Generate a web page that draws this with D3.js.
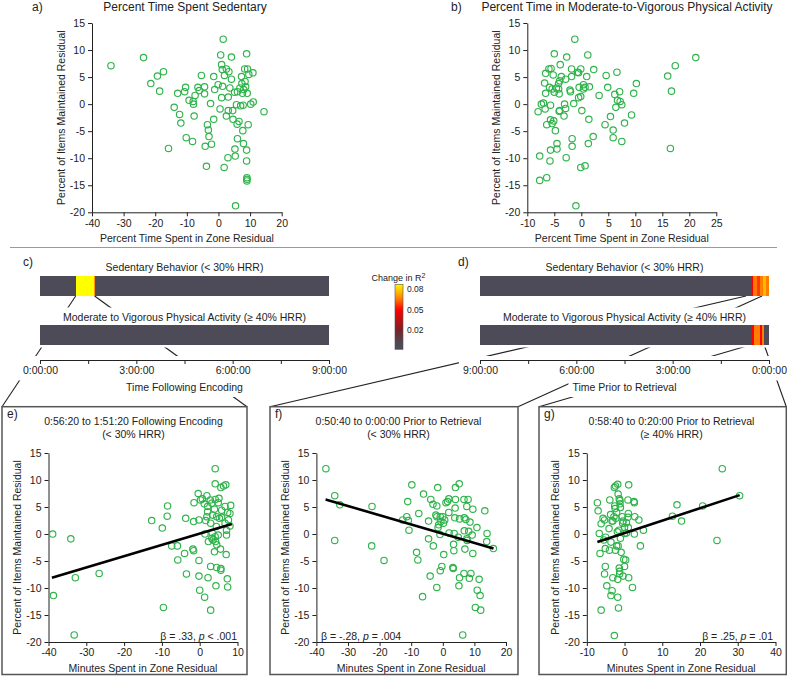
<!DOCTYPE html>
<html><head><meta charset="utf-8">
<script src="https://cdn.jsdelivr.net/npm/d3@7"></script>
<style>
body{margin:0;background:#fff}
svg text{font-family:"Liberation Sans",Arial,sans-serif;fill:#222}
</style></head>
<body><svg id="c" width="787" height="676"></svg>
<script>
// ---------------- DATA ----------------
const yTicks = [15,10,5,0,-5,-10,-15,-20];
const aXTicks = [-40,-30,-20,-10,0,10,20];
const bXTicks = [-10,-5,0,5,10,15,20,25];
const eXTicks = [-40,-30,-20,-10,0,10];
const fXTicks = [-40,-30,-20,-10,0,10,20];
const gXTicks = [-10,0,10,20,30,40];

// a) Percent time sedentary residual vs items maintained residual
const sedX = [1.5,-34.0,-23.7,0.7,4.1,8.9,1.0,-17.4,-19.3,-21.4,-18.6,-5.4,-1.5,1.2,2.5,3.3,1.9,4.1,8.3,9.2,10.9,9.6,7.3,8.4,7.4,-0.1,1.3,3.6,6.8,8.6,8.0,-1.2,-10.4,-10.7,-12.9,-6.5,-6.1,-4.4,-4.4,-7.4,-9.3,-8.0,-7.9,-2.5,-14.0,-12.3,-11.9,-7.7,1.0,3.1,5.1,6.0,7.6,9.1,5.7,7.0,7.8,10.2,11.0,14.4,0.5,3.1,4.5,2.5,-1.5,4.6,6.5,5.9,9.4,-3.5,-3.2,7.7,-3.0,-10.2,-8.2,-4.2,-2.2,6.0,7.9,8.9,5.2,-15.8,3.0,5.3,8.9,-3.8,1.8,9.0,9.0,9.0,5.4];
const sedY = [12.0,7.1,8.6,9.1,8.7,9.3,7.3,6.0,5.2,3.8,2.4,5.3,5.1,6.4,6.5,6.0,5.3,4.6,6.5,6.5,5.8,5.5,5.1,4.2,3.8,3.6,3.3,3.0,3.0,3.2,2.7,2.7,3.1,2.3,2.0,3.1,2.5,3.2,1.9,1.6,0.7,0.5,0.0,0.1,-0.6,-1.9,-3.5,-2.2,1.2,1.3,2.2,2.3,2.0,2.0,-0.1,-0.3,-0.2,0.0,0.4,-1.4,-0.9,-1.2,-1.2,-2.2,-2.8,-2.8,-3.2,-3.7,-3.8,-3.8,-4.8,-4.9,-6.0,-6.2,-6.9,-7.8,-7.4,-6.4,-7.3,-8.5,-8.3,-8.2,-9.9,-9.6,-10.5,-11.5,-11.7,-13.6,-13.9,-14.2,-18.8];

// b) Percent time in MVPA residual
const mvpaX = [-1.2,-5.0,-2.7,1.2,21.2,17.4,16.0,16.7,16.5,-6.6,-6.0,-5.6,-5.2,-3.9,-1.8,-0.7,-0.5,-0.1,2.3,1.0,4.6,6.6,10.2,4.9,9.7,7.1,6.2,6.7,7.2,7.5,6.4,3.3,5.4,9.3,8.0,4.4,5.9,5.9,7.5,2.2,1.4,1.3,-6.8,-6.6,-7.0,-7.4,-8.0,-6.7,-5.7,-6.4,-5.7,-5.1,-5.4,-4.8,-5.9,-5.4,-5.0,-4.6,-4.2,-4.1,-4.2,-4.0,-3.7,-2.9,-2.1,-2.0,-1.8,-0.4,0.4,0.4,0.7,1.5,-0.5,-0.1,-1.4,-4.0,-3.1,-2.9,-4.1,-3.2,0.1,-5.7,-4.5,-4.5,-5.8,-7.7,-2.8,-1.7,-1.7,-0.1,0.7,-7.7,-6.4,-1.0];
const mvpaY = [12.0,9.3,8.7,9.1,8.6,7.1,5.2,2.4,-8.2,5.7,6.5,6.6,5.4,7.3,6.5,5.9,5.8,6.5,6.4,5.1,5.3,5.9,3.8,3.1,2.0,2.3,1.8,0.7,0.5,-0.1,-0.6,1.6,-2.3,-2.0,-3.5,-3.8,-4.8,-6.2,-6.9,-6.0,-2.8,-7.3,3.9,2.0,0.2,0.0,-1.4,-0.9,-0.2,-3.8,-2.9,-3.1,-3.6,-4.9,3.1,2.8,2.2,3.0,2.8,1.9,3.8,4.3,5.1,4.6,2.6,2.3,5.1,3.1,2.8,3.6,3.1,3.2,1.2,1.4,0.1,-1.2,0.0,-0.8,-1.3,-2.2,-1.2,-8.5,-8.3,-7.3,-10.5,-9.6,-9.9,-6.4,-7.8,-11.7,-11.4,-14.1,-13.6,-18.8];

// c) change in R^2, time following encoding (minutes)
const cSedEdges = [0,66.7,101.0,102.2,540];
const cSedR2 = [0,0.088,0.07,0];
const cMvpaEdges = [0,540];
const cMvpaR2 = [0];
// d) change in R^2, time prior to retrieval (minutes before retrieval)
const dSedEdges = [540,33.6,30.5,23.0,16.8,10.6,5.6,0];
const dSedR2 = [0,0.05,0.065,0.057,0.066,0.076,0.066];
const dMvpaEdges = [540,31.2,28.5,17.0,13.0,9.3,0];
const dMvpaR2 = [0,0.05,0.066,0.05,0.066,0];
const timeTicks = [0,90,180,270,360,450,540];
const r2Ticks = [0.02,0.05,0.08];
// zoom windows (minutes) that connect to panels e, f, g
const cZoom = [66.7,102.0];
const dSedZoom = [43,13];
const dMvpaZoom = [31.8,9.3];

// e) 0:56:20-1:51:20 following encoding, sedentary
const eX = [4.1,4.1,5.6,6.3,6.9,-0.4,1.9,-1.5,0.2,0.7,2.8,4.1,5.1,4.9,-8.5,6.7,8.2,2.1,3.2,1.2,5.8,7.4,8.0,2.1,3.9,3.4,5.2,4.5,7.6,-8.6,-3.7,-12.7,-1.6,-0.2,1.6,2.9,6.7,-9.9,1.4,3.3,4.1,4.9,7.1,3.5,4.2,2.3,4.5,5.5,-7.4,-5.9,-1.8,-1.6,-4.0,-5.8,-0.2,3.9,7.0,2.9,4.5,5.6,5.6,-3.5,-0.2,2.2,7.3,4.3,7.4,0.0,1.3,2.9,-9.6,-38.9,-34.1,-32.9,-26.6,-38.7,-33.2,8.0,7.1,3.2,4.4,1.9,5.8];
const eY = [12.1,9.3,8.6,8.9,9.1,7.5,7.1,5.8,6.3,6.5,6.3,6.4,6.6,5.8,5.2,5.1,5.3,5.1,5.7,5.6,4.4,4.0,3.8,4.1,4.6,3.5,2.9,3.2,2.6,3.3,2.9,2.5,2.3,2.6,2.5,2.0,2.0,1.1,0.0,0.2,-0.5,-0.2,-0.2,-1.1,-1.4,-1.4,-2.0,-2.8,-2.2,-2.2,-2.8,-3.1,-3.6,-4.8,-4.9,-3.3,-3.8,-6.0,-6.2,-6.4,-6.7,-7.4,-7.8,-8.1,-8.3,-9.6,-9.8,-10.4,-11.7,-14.1,-13.6,0.0,-0.9,-8.1,-7.3,-11.4,-18.7,1.5,0.7,-0.8,1.4,3.2,3.1];
const eFitX = [-39.1,8.5], eFitY = [-8.1,1.85];

// f) 0:50:40-0:00:00 prior to retrieval, sedentary
const fX = [-37.0,-34.2,-32.6,-34.2,-22.4,-22.5,-18.6,-9.8,-11.1,-12.7,-11.4,-10.9,-10.7,-6.1,-7.6,-4.5,-4.5,-3.0,-8.3,-7.9,-3.8,-3.1,-1.6,-1.9,-2.2,-1.9,-0.8,0.0,0.6,-0.6,-1.3,-1.5,0.2,1.0,1.5,1.9,1.9,-0.9,2.0,4.0,4.0,5.2,6.7,8.0,3.8,5.3,6.8,7.3,7.6,9.5,13.3,8.6,10.8,6.8,8.2,9.3,7.6,7.7,4.9,3.6,14.0,13.9,16.0,3.4,3.5,7.0,9.5,0.3,-0.3,-0.8,3.2,3.3,-4.0,-1.9,-6.4,5.3,6.7,8.4,8.9,11.5,5.1,10.9,11.8,10.3,12.0,6.3,3.9];
const fY = [12.1,7.1,5.4,-1.2,5.1,-2.2,-4.9,9.1,6.0,2.6,3.2,2.5,0.7,7.4,3.8,2.4,-0.9,-2.2,-3.4,-4.8,6.4,5.5,8.6,5.2,3.5,3.2,3.2,3.2,2.6,2.3,1.7,1.2,2.0,5.8,6.0,6.5,4.0,-0.1,0.2,6.4,8.6,9.3,6.4,6.4,3.0,2.8,3.0,2.7,5.1,4.6,4.3,2.2,1.2,0.6,0.5,-0.2,-0.9,-1.2,-0.6,0.1,0.1,-1.4,-2.7,-1.9,-3.1,-2.8,-3.6,-3.8,-6.0,-6.8,-6.2,-6.4,-7.8,-9.9,-11.6,-8.1,-7.3,-8.2,-7.3,-8.4,-9.6,-10.4,-11.4,-13.6,-14.1,-18.7,4.8];
const fFitX = [-37.1,16.05], fFitY = [6.4,-2.7];

// g) 0:58:40-0:20:00 prior to retrieval, MVPA
const gX = [25.9,30.5,20.7,13.9,12.7,15.1,24.5,5.0,4.2,-7.2,-7.0,-6.7,-6.5,-6.2,-5.7,-5.3,-5.0,-5.5,-5.1,-5.1,-5.3,-4.7,-6.2,-3.9,-3.7,-3.3,-4.1,-3.6,-4.0,-2.7,-2.4,-1.8,-2.6,-2.5,-2.1,-2.8,-3.1,-2.3,-1.7,-1.4,-1.2,-1.2,-1.1,-0.6,-0.4,-0.5,-1.9,-1.5,-1.1,-2.1,-1.7,-2.4,-0.9,0.0,0.5,1.1,0.9,2.5,2.6,1.0,0.9,2.7,3.8,1.0,0.5,0.0,2.6,-0.2,0.3,0.0,-1.4,-1.3,-1.3,-0.4,-1.8,-3.1,1.1,2.1,-3.3,-3.6,-1.8,-1.6,-2.7];
const gY = [12.1,7.1,5.2,5.4,3.3,2.4,-1.2,0.7,-2.2,5.8,4.3,0.1,-3.6,1.9,2.9,2.6,-0.6,-1.1,-2.7,-6.0,-7.4,-9.6,-14.1,6.3,3.6,2.4,1.0,-1.5,-3.0,8.6,8.9,9.2,5.2,4.7,4.0,3.2,2.4,2.9,7.4,6.5,6.2,5.6,4.9,3.2,2.4,2.0,0.4,0.7,-0.8,-2.2,-2.2,-3.0,-3.4,0.1,0.2,9.1,6.3,6.0,5.8,3.8,3.1,3.2,2.6,1.2,2.1,1.2,0.0,-4.7,-4.8,-6.0,-6.3,-6.9,-7.4,-7.8,-8.4,-8.1,-8.1,-9.9,-10.5,-11.4,-11.7,-13.7,-18.8];
const gFitX = [-7.2,30.5], gFitY = [-1.5,7.2];

// ---------------- DRAW ----------------
const svg = d3.select("#c");
const GREEN = "#2fb34b";
const heat = d3.scaleLinear().domain([0,0.02,0.05,0.065,0.088])
  .range(["#4d4b57","#7a2028","#ff0000","#ff7800","#ffff00"]).clamp(true);

const connLayer = svg.append("g");
const maskLayer = svg.append("g");
const main = svg.append("g");

function styleAxis(g, fs){
  g.attr("font-family",null).attr("font-size",null);
  g.selectAll("text").style("font-size",fs+"px").attr("fill","#222");
  g.selectAll("path,line").attr("stroke","#222").attr("stroke-width",1);
}
function txt(parent,x,y,s,fs,anchor){
  return parent.append("text").attr("x",x).attr("y",y).attr("text-anchor",anchor||"middle")
    .style("font-size",fs+"px").text(s);
}
function scatter(o){
  const g = main.append("g");
  const x = d3.scaleLinear().domain(o.xDomain).range([o.left,o.right]);
  const y = d3.scaleLinear().domain([-20,15]).range([o.bottom,o.top]);
  const ax = g.append("g").attr("transform",`translate(0,${o.bottom})`)
    .call(d3.axisBottom(x).tickValues(o.xTicks).tickSize(4).tickSizeOuter(0).tickPadding(3).tickFormat(d=>String(d)));
  styleAxis(ax,10.5);
  const ay = g.append("g").attr("transform",`translate(${o.left},0)`)
    .call(d3.axisLeft(y).tickValues(yTicks).tickSize(4).tickSizeOuter(0).tickPadding(3).tickFormat(d=>String(d)));
  styleAxis(ay,10.5);
  g.append("g").selectAll("circle").data(d3.zip(o.xs,o.ys)).join("circle")
    .attr("cx",d=>x(d[0])).attr("cy",d=>y(d[1])).attr("r",3.2)
    .attr("fill","none").attr("stroke",GREEN).attr("stroke-width",1.15);
  if(o.fitX){
    g.append("line").attr("x1",x(o.fitX[0])).attr("y1",y(o.fitY[0]))
      .attr("x2",x(o.fitX[1])).attr("y2",y(o.fitY[1]))
      .attr("stroke","#000").attr("stroke-width",2.6);
  }
  txt(g,(o.left+o.right)/2,o.bottom+30,o.xTitle,10.5);
  g.append("text").attr("transform",`translate(${o.left-31},${(o.top+o.bottom)/2}) rotate(-90)`)
    .attr("dy","0.35em").attr("text-anchor","middle").style("font-size","10.5px")
    .text("Percent of Items Maintained Residual");
  return {x,y,g};
}

// top panels
scatter({xDomain:[-40,20],left:92,right:281.7,top:23,bottom:212.3,xTicks:aXTicks,xs:sedX,ys:sedY,xTitle:"Percent Time Spent in Zone Residual"});
scatter({xDomain:[-10,25],left:527.3,right:716.3,top:23,bottom:212.3,xTicks:bXTicks,xs:mvpaX,ys:mvpaY,xTitle:"Percent Time Spent in Zone Residual"});
txt(main,185,11,"Percent Time Spent Sedentary",12);
txt(main,627,11,"Percent Time in Moderate-to-Vigorous Physical Activity",12);
txt(main,32,11,"a)",12,"start");
txt(main,451,11,"b)",12,"start");

// separator
main.append("line").attr("x1",10).attr("x2",777).attr("y1",247.5).attr("y2",247.5)
  .attr("stroke","#9a9a9a").attr("stroke-width",1);

// boxes for bottom panels
const boxes = {
  e:{x0:2,x1:247,y0:406.7,y1:674.5},
  f:{x0:270,x1:518,y0:406.7,y1:674.5},
  g:{x0:539,x1:786.3,y0:406.7,y1:674.5}
};

// heat panels
const masks = [];
function heatPanel(o){
  const xs = d3.scaleLinear().domain(o.domain).range([o.left,o.right]);
  const g = main.append("g");
  function bar(y,edges,vals){
    const segs = d3.range(vals.length).map(i=>({a:edges[i],b:edges[i+1],v:vals[i]}));
    return g.append("g").selectAll("rect").data(segs).join("rect")
      .attr("x",d=>Math.min(xs(d.a),xs(d.b))).attr("width",d=>Math.abs(xs(d.b)-xs(d.a)))
      .attr("y",y).attr("height",19.5).attr("fill",d=>heat(d.v)).attr("shape-rendering","crispEdges");
  }
  const cx=(o.left+o.right)/2;
  txt(g,cx,270.5,"Sedentary Behavior (< 30% HRR)",10.5);
  bar(276,o.sedEdges,o.sedR2);
  const l2 = txt(g,cx,320.5,"Moderate to Vigorous Physical Activity (\u2265 40% HRR)",10.5);
  bar(325,o.mvEdges,o.mvR2);
  const ax = g.append("g").attr("transform","translate(0,360)")
    .call(d3.axisBottom(xs).tickValues(timeTicks).tickSize(4).tickSizeOuter(0).tickPadding(3)
      .tickFormat(d=> d%180===0 ? `${Math.floor(d/60)}:00:00` : ""));
  styleAxis(ax,10.5);
  const t = txt(g,cx,391,o.title,10.5);
  txt(g,o.labX,266,o.lab,12,"start");
  masks.push([l2.node(),3,6],[ax.node(),4,4],[t.node(),4,4]);
  return {xs};
}
const pc = heatPanel({domain:[0,540],left:40,right:329,sedEdges:cSedEdges,sedR2:cSedR2,mvEdges:cMvpaEdges,mvR2:cMvpaR2,title:"Time Following Encoding",lab:"c)",labX:23});
const pd = heatPanel({domain:[540,0],left:480,right:769,sedEdges:dSedEdges,sedR2:dSedR2,mvEdges:dMvpaEdges,mvR2:dMvpaR2,title:"Time Prior to Retrieval",lab:"d)",labX:458});
masks.push([{bar:true,x0:40,x1:329},3,3],[{bar:true,x0:480,x1:769},3,3]);

// connectors
const conns = [
  [pc.xs(cZoom[0]),296,boxes.e.x0,boxes.e.y0],
  [pc.xs(cZoom[1]),296,boxes.e.x1,boxes.e.y0],
  [pd.xs(dSedZoom[0]),296,boxes.f.x0,boxes.f.y0],
  [pd.xs(dSedZoom[1]),296,boxes.f.x1,boxes.f.y0],
  [pd.xs(dMvpaZoom[0]),344.5,boxes.g.x0,boxes.g.y0],
  [pd.xs(dMvpaZoom[1]),344.5,boxes.g.x1,boxes.g.y0]
];
connLayer.selectAll("line").data(conns).join("line")
  .attr("x1",d=>d[0]).attr("y1",d=>d[1]).attr("x2",d=>d[2]).attr("y2",d=>d[3])
  .attr("stroke","#222").attr("stroke-width",1.1);

// colorbar
const cb = d3.scaleLinear().domain([0.02,0.08]).range([330,289]);
const defs = svg.append("defs");
const grad = defs.append("linearGradient").attr("id","gr").attr("x1",0).attr("x2",0).attr("y1",1).attr("y2",0);
const cbLo = cb.invert(349.3), cbHi = cb.invert(284.3);
d3.range(0,1.0001,0.05).forEach(t=>{
  grad.append("stop").attr("offset",t).attr("stop-color",heat(cbLo+(cbHi-cbLo)*t));
});
main.append("rect").attr("x",395).attr("y",cb(cbHi)).attr("width",8).attr("height",cb(cbLo)-cb(cbHi))
  .attr("fill","url(#gr)").attr("stroke","#555").attr("stroke-width",0.6);
const cax = main.append("g").attr("transform","translate(403,0)")
  .call(d3.axisRight(cb).tickValues(r2Ticks).tickSize(0).tickPadding(4).tickFormat(d3.format(".2f")));
cax.select(".domain").remove();
styleAxis(cax,8.5);
const ct = main.append("text").attr("x",398.5).attr("y",281).attr("text-anchor","middle").style("font-size","9px");
ct.append("tspan").text("Change in R");
ct.append("tspan").attr("dy",-3.5).style("font-size","7px").text("2");

// bottom panels
function boxPanel(b,lab){
  main.append("rect").attr("x",b.x0).attr("y",b.y0).attr("width",b.x1-b.x0).attr("height",b.y1-b.y0)
    .attr("fill","none").attr("stroke","#555").attr("stroke-width",1.5);
  txt(main,b.x0+5,418,lab,12,"start");
}
boxPanel(boxes.e,"e)");
boxPanel(boxes.f,"f)");
boxPanel(boxes.g,"g)");

scatter({xDomain:[-40,10],left:48.5,right:237.5,top:453,bottom:642,xTicks:eXTicks,xs:eX,ys:eY,fitX:eFitX,fitY:eFitY,xTitle:"Minutes Spent in Zone Residual"});
scatter({xDomain:[-40,20],left:316.4,right:506,top:453,bottom:642,xTicks:fXTicks,xs:fX,ys:fY,fitX:fFitX,fitY:fFitY,xTitle:"Minutes Spent in Zone Residual"});
scatter({xDomain:[-10,40],left:586.8,right:775.5,top:453,bottom:642,xTicks:gXTicks,xs:gX,ys:gY,fitX:gFitX,fitY:gFitY,xTitle:"Minutes Spent in Zone Residual"});

function titles(cx,l1,l2){ txt(main,cx,425,l1,10.5); txt(main,cx,437.5,l2,10.5); }
titles(133.5,"0:56:20 to 1:51:20 Following Encoding","(< 30% HRR)");
titles(398.5,"0:50:40 to 0:00:00 Prior to Retrieval","(< 30% HRR)");
titles(671.5,"0:58:40 to 0:20:00 Prior to Retrieval","(\u2265 40% HRR)");

function beta(x,anchor,parts){
  const t = main.append("text").attr("x",x).attr("y",640).attr("text-anchor",anchor).style("font-size","10.5px");
  parts.forEach(p=>t.append("tspan").style("font-style",p[1]?"italic":"normal").text(p[0]));
}
beta(237,"end",[["\u03b2 = .33, ",0],["p",1],[" < .001",0]]);
beta(321,"start",[["\u03b2 = -.28, ",0],["p",1],[" = .004",0]]);
beta(773,"end",[["\u03b2 = .25, ",0],["p",1],[" = .01",0]]);

// masks (white background behind labels / bars / axes so connectors are hidden there)
const sr = svg.node().getBoundingClientRect();
masks.forEach(([n,padY,padX])=>{
  let r;
  if(n.bar){ r={x:n.x0,y:325,width:n.x1-n.x0,height:19.5}; }
  else { const q=n.getBoundingClientRect(); r={x:q.left-sr.left,y:q.top-sr.top,width:q.width,height:q.height}; }
  maskLayer.append("rect").attr("x",r.x-padX).attr("y",r.y-padY).attr("width",r.width+2*padX).attr("height",r.height+2*padY).attr("fill","#fff");
});
</script></body></html>
